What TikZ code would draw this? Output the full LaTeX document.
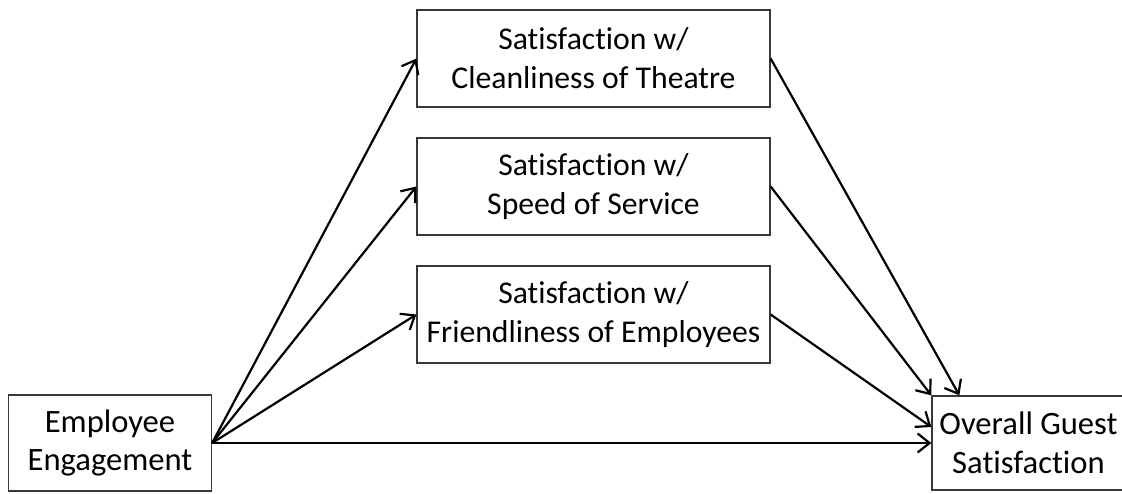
\documentclass[tikz,border=0pt]{standalone}
\usepackage{fontspec}
\setmainfont{Carlito}[Ligatures=NoCommon]
\usetikzlibrary{arrows.meta}

\tikzset{
  factor/.style={draw=black!78, line width=1.3pt, fill=white, align=center,
    inner sep=0pt, font=\fontsize{31.7}{39}\selectfont},
  endbox/.style={factor, font=\fontsize{32.6}{38.5}\selectfont},
  path/.style={draw=black, line width=2.2pt,
    -{Straight Barb[length=12pt,width=19pt,line width=2.2pt]}}
}

\begin{document}
\begin{tikzpicture}[x=1pt,y=-1pt]
  \useasboundingbox (0,0) rectangle (1122,493);

  % predictor and outcome
  \node[endbox, minimum width=203pt, minimum height=96pt] (emp) at (110,443)
    {Employee\\Engagement};
  \node[endbox, minimum width=193pt, minimum height=94pt] (ogs) at (1028.5,443)
    {Overall Guest\\Satisfaction};

  % mediators
  \node[factor, minimum width=353pt, minimum height=97pt] (clean) at (593.5,58.5)
    {Satisfaction w/\\Cleanliness of Theatre};
  \node[factor, minimum width=353pt, minimum height=97pt] (speed) at (593.5,186.5)
    {Satisfaction w/\\Speed of Service};
  \node[factor, minimum width=353pt, minimum height=97pt] (friend) at (593.5,314.5)
    {Satisfaction w/\\Friendliness of Employees};

  % paths from engagement
  \draw[path] (emp.east) -- (clean.west);
  \draw[path] (emp.east) -- (speed.west);
  \draw[path] (emp.east) -- (friend.west);
  \draw[path] (emp.east) -- (ogs.west);

  % paths into overall satisfaction
  \draw[path] (clean.east) -- ([xshift=28pt]ogs.north west);
  \draw[path] (speed.east) -- (ogs.north west);
  \draw[path] (friend.east) -- ([yshift=16pt]ogs.west);
\end{tikzpicture}
\end{document}
